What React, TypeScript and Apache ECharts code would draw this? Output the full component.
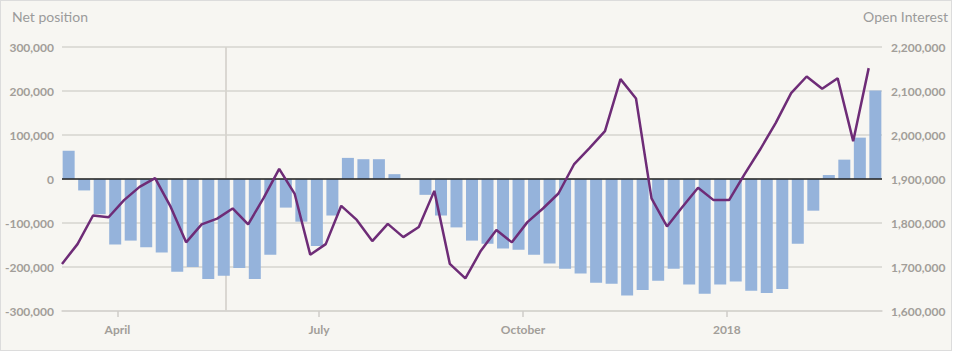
import React, { useEffect, useRef } from 'react';
import * as echarts from 'echarts';

// Weekly report dates (Tuesdays) – the line is drawn on these
const reportDates = [
  '2017-03-07', '2017-03-14', '2017-03-21', '2017-03-28', '2017-04-04', '2017-04-11', '2017-04-18', '2017-04-25',
  '2017-05-02', '2017-05-09', '2017-05-16', '2017-05-23', '2017-05-30', '2017-06-06', '2017-06-13', '2017-06-20',
  '2017-06-27', '2017-07-04', '2017-07-11', '2017-07-18', '2017-07-25', '2017-08-01', '2017-08-08', '2017-08-15',
  '2017-08-22', '2017-08-29', '2017-09-05', '2017-09-12', '2017-09-19', '2017-09-26', '2017-10-03', '2017-10-10',
  '2017-10-17', '2017-10-24', '2017-10-31', '2017-11-07', '2017-11-14', '2017-11-21', '2017-11-28', '2017-12-05',
  '2017-12-12', '2017-12-19', '2017-12-26', '2018-01-02', '2018-01-09', '2018-01-16', '2018-01-23', '2018-01-30',
  '2018-02-06', '2018-02-13', '2018-02-20', '2018-02-27', '2018-03-06',
];

// Net position (bars, left axis)
const netPosition: (number | null)[] = [
  64000, -26000, -80000, -149000, -140000, -155000, -167000, -211000, -200000, -227000,
  -220000, -202000, -227000, -172000, -65000, -97000, -152000, -83000, 48000, 45000,
  45000, 11000, null, -36000, -83000, -110000, -140000, -147000, -158000, -161000,
  -172000, -192000, -204000, -215000, -236000, -238000, -265000, -252000, -231000, -204000,
  -240000, -261000, -240000, -233000, -254000, -259000, -250000, -147000, -72000, 9000,
  44000, 94000, 201000,
];

// Open interest (line, right axis)
const openInterest = [
  1707000, 1752000, 1817000, 1813000, 1852000, 1882000, 1902000, 1837000, 1756000, 1797000,
  1810000, 1833000, 1797000, 1857000, 1923000, 1866000, 1728000, 1752000, 1839000, 1807000,
  1759000, 1798000, 1768000, 1791000, 1873000, 1707000, 1674000, 1737000, 1784000, 1756000,
  1802000, 1833000, 1867000, 1933000, 1970000, 2009000, 2127000, 2083000, 1856000, 1792000,
  1837000, 1880000, 1852000, 1852000, 1911000, 1967000, 2027000, 2095000, 2133000, 2105000,
  2129000, 1986000, 2152000,
];

// Bars are shown at the release date, 3 days after the report date
const releaseLagDays = 3;

const monthTickDates = ['2017-04-01', '2017-07-01', '2017-10-01', '2018-01-01'];
const monthTickLabels = ['April', 'July', 'October', '2018'];
const markerDate = '2017-05-20';
const xMinDate = '2017-03-07';
const xMaxDate = '2018-03-12';

const leftMin = -300000;
const leftMax = 300000;
const rightMin = 1600000;
const rightMax = 2200000;
const tickStep = 100000;

const DAY = 86400000;
const ts = (s: string) => {
  const [y, m, d] = s.split('-').map(Number);
  return Date.UTC(y, m - 1, d);
};
const fmt = (v: number) => v.toLocaleString('en-US');

export default function App() {
  const ref = useRef<HTMLDivElement>(null);
  useEffect(() => {
    document.body.style.margin = '0';
    if (!ref.current) return;
    const chart = echarts.init(ref.current, null, { renderer: 'svg' });
    const monthTs = monthTickDates.map(ts);
    const labelColor = '#a29e99';
    const font = 'Lato, "Noto Sans", sans-serif';
    const gridColor = '#d6d4cf';

    const barData = reportDates.map((d, i) => [ts(d) + releaseLagDays * DAY, netPosition[i] == null ? '-' : netPosition[i]]);
    const lineData = reportDates.map((d, i) => [ts(d), openInterest[i]]);

    chart.setOption({
      animation: false,
      backgroundColor: 'transparent',
      title: [
        { text: 'Net position', left: 11, top: 8, padding: 0, textStyle: { fontFamily: font, fontSize: 14, fontWeight: 'normal', color: '#9b9b9b' } },
        { text: 'Open Interest', right: 3, top: 8, padding: 0, textStyle: { fontFamily: font, fontSize: 14, fontWeight: 'normal', color: '#9b9b9b' } },
      ],
      grid: { left: 61, right: 69, top: 46, bottom: 39, containLabel: false, outerBoundsMode: 'none' },
      xAxis: {
        type: 'value',
        min: ts(xMinDate),
        max: ts(xMaxDate),
        axisLine: { show: true, onZero: false, lineStyle: { color: gridColor, width: 1.5 } },
        splitLine: { show: false },
        axisTick: { show: true, length: 6, customValues: monthTs, lineStyle: { color: '#cfcdc8', width: 1.5 } },
        axisLabel: {
          customValues: monthTs,
          margin: 12,
          fontFamily: font,
          fontSize: 12,
          fontWeight: 'bold',
          color: labelColor,
          formatter: (v: number) => {
            for (let i = 0; i < monthTs.length; i++) if (Math.abs(monthTs[i] - v) < DAY) return monthTickLabels[i];
            return '';
          },
        },
      },
      yAxis: [
        {
          type: 'value',
          min: leftMin,
          max: leftMax,
          interval: tickStep,
          axisLine: { show: false },
          axisTick: { show: false },
          splitLine: { show: true, lineStyle: { color: gridColor, width: 1.5 } },
          axisLabel: { margin: 8, fontFamily: font, fontSize: 12, fontWeight: 'bold', color: labelColor, formatter: (v: number) => fmt(v) },
        },
        {
          type: 'value',
          min: rightMin,
          max: rightMax,
          interval: tickStep,
          axisLine: { show: false },
          axisTick: { show: false },
          splitLine: { show: false },
          axisLabel: { margin: 9, fontFamily: font, fontSize: 12, fontWeight: 'bold', color: labelColor, formatter: (v: number) => fmt(v) },
        },
      ],
      series: [
        {
          type: 'line',
          data: [],
          z: 1,
          silent: true,
          markLine: {
            z: 1,
            silent: true,
            symbol: 'none',
            label: { show: false },
            lineStyle: { color: gridColor, width: 1.8, type: 'solid' },
            data: [{ xAxis: ts(markerDate) }],
          },
        },
        {
          name: 'Net position',
          type: 'bar',
          yAxisIndex: 0,
          barWidth: 12,
          z: 2,
          itemStyle: { color: '#95b3db' },
          data: barData,
          markLine: {
            z: 5,
            silent: true,
            symbol: 'none',
            label: { show: false },
            lineStyle: { color: '#222222', width: 1.5, type: 'solid' },
            data: [{ yAxis: 0 }],
          },
        },
        {
          name: 'Open Interest',
          type: 'line',
          yAxisIndex: 1,
          z: 10,
          symbol: 'none',
          lineStyle: { color: '#6e2c77', width: 2.5 },
          itemStyle: { color: '#6e2c77' },
          data: lineData,
        },
      ],
    });
    return () => chart.dispose();
  }, []);

  return (
    <div
      style={{
        width: 952,
        height: 351,
        boxSizing: 'border-box',
        border: '1px solid #dcdcdc',
        background: '#f7f6f2',
        position: 'relative',
      }}
    >
      <div ref={ref} style={{ width: 950, height: 349 }} />
    </div>
  );
}
